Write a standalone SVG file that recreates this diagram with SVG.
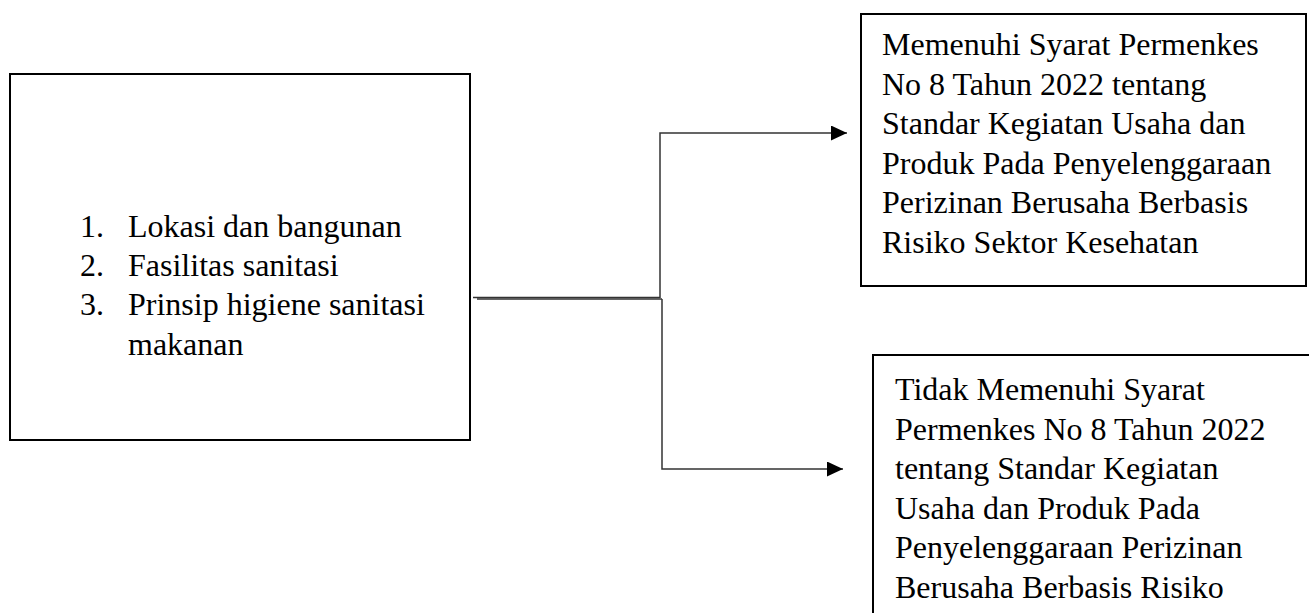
<svg xmlns="http://www.w3.org/2000/svg" width="1309" height="613" viewBox="0 0 1309 613">
<style>
.box{fill:#fff;stroke:#000;stroke-width:2}
.t{font-family:"Liberation Serif","Times New Roman",serif;font-size:32px;fill:#000}
.c{fill:none;stroke:#333;stroke-width:1.5}
</style>
<defs>
<marker id="ah" markerWidth="16" markerHeight="15" refX="16" refY="7.5" orient="auto" markerUnits="userSpaceOnUse">
<path d="M0,0 L16,7.5 L0,15 Z" fill="#000"/>
</marker>
</defs>
<rect width="1309" height="613" fill="#fff"/>
<g id="node-criteria">
<rect class="box" x="10" y="74" width="460" height="366"/>
<text class="t" x="80" y="237">1.</text>
<text class="t" x="128" y="237">Lokasi dan bangunan</text>
<text class="t" x="80" y="276">2.</text>
<text class="t" x="128" y="276">Fasilitas sanitasi</text>
<text class="t" x="80" y="315">3.</text>
<text class="t" x="128" y="315">Prinsip higiene sanitasi</text>
<text class="t" x="128" y="355">makanan</text>
</g>
<g id="node-memenuhi">
<rect class="box" x="861" y="14" width="445" height="272"/>
<text class="t" x="882" y="55">Memenuhi Syarat Permenkes</text>
<text class="t" x="882" y="95">No 8 Tahun 2022 tentang</text>
<text class="t" x="882" y="134">Standar Kegiatan Usaha dan</text>
<text class="t" x="882" y="174">Produk Pada Penyelenggaraan</text>
<text class="t" x="882" y="213">Perizinan Berusaha Berbasis</text>
<text class="t" x="882" y="253">Risiko Sektor Kesehatan</text>
</g>
<g id="node-tidak">
<rect class="box" x="873" y="355" width="450" height="280"/>
<text class="t" x="895" y="400">Tidak Memenuhi Syarat</text>
<text class="t" x="895" y="440">Permenkes No 8 Tahun 2022</text>
<text class="t" x="895" y="479">tentang Standar Kegiatan</text>
<text class="t" x="895" y="519">Usaha dan Produk Pada</text>
<text class="t" x="895" y="558">Penyelenggaraan Perizinan</text>
<text class="t" x="895" y="598">Berusaha Berbasis Risiko</text>
</g>
<g id="connectors">
<path class="c" d="M473,297.5 L660,297.5"/>
<path class="c" d="M477,299 L662,299"/>
<path class="c" d="M660,298 L660,133 L847,133" marker-end="url(#ah)"/>
<path class="c" d="M662,299 L662,469 L843,469" marker-end="url(#ah)"/>
</g>
</svg>
